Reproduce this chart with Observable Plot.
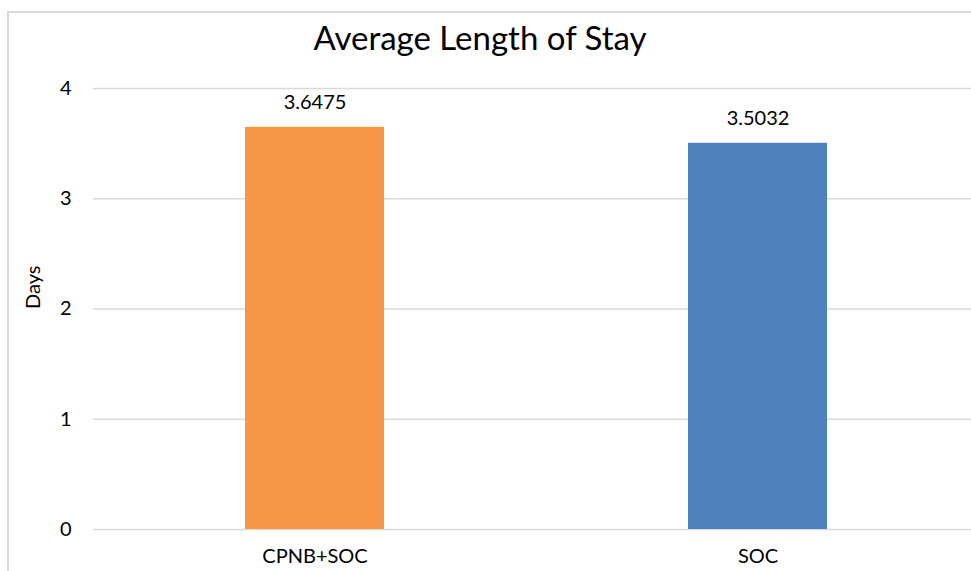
<!DOCTYPE html>
<html>
<head>
<meta charset="utf-8">
<script src="https://cdn.jsdelivr.net/npm/d3@7"></script>
<script src="https://cdn.jsdelivr.net/npm/@observablehq/plot@0.6"></script>
<style>
  html, body { margin: 0; padding: 0; background: #fff; }
  #wrap { position: relative; width: 971px; height: 571px; overflow: hidden; font-family: Lato, "Open Sans", sans-serif; }
  #frame { position: absolute; left: 7px; top: 11px; width: 1000px; height: 600px; border-left: 2px solid #d9d9d9; border-top: 2px solid #d9d9d9; }
  #title { position: absolute; left: 0; top: 18px; width: 960px; text-align: center; font-size: 33px; line-height: 38px; color: #000; }
  #chart { position: absolute; left: 0; top: 0; }
</style>
</head>
<body>
<div id="wrap">
  <div id="frame"></div>
  <div id="title">Average Length of Stay</div>
  <div id="chart"></div>
</div>
<script>
const categories = ["CPNB+SOC", "SOC"];
const values = [3.6475, 3.5032];
const colors = ["#F79646", "#4F81BD"];
const yTicks = [0, 1, 2, 3, 4];
const yLabel = "Days";

const data = categories.map((c, i) => ({category: c, value: values[i], color: colors[i]}));

const plot = Plot.plot({
  width: 971,
  height: 571,
  marginTop: 88,
  marginBottom: 42,
  marginLeft: 93,
  marginRight: 0,
  style: {fontFamily: "Lato, 'Open Sans', sans-serif", fontSize: "20px", color: "#000", background: "transparent"},
  x: {domain: categories, range: [93, 979], paddingInner: 0.686, paddingOuter: 0.343, label: null},
  y: {domain: [0, 4], label: null},
  marks: [
    Plot.ruleY(yTicks, {stroke: "#d9d9d9", strokeWidth: 1.6}),
    Plot.barY(data, {x: "category", y: "value", fill: "color"}),
    Plot.text(data, {x: "category", y: "value", text: d => d.value.toFixed(4), dy: -25, fontSize: 20, fill: "#000"}),
    Plot.axisY(yTicks, {tickSize: 0, tickPadding: 22, fontSize: 20, tickFormat: "d", label: null}),
    Plot.axisX({tickSize: 0, tickPadding: 19, fontSize: 20, label: null}),
    Plot.text([yLabel], {frameAnchor: "left", dx: -60, rotate: -90, fontSize: 20, fill: "#000"})
  ]
});
document.getElementById("chart").appendChild(plot);
</script>
</body>
</html>
